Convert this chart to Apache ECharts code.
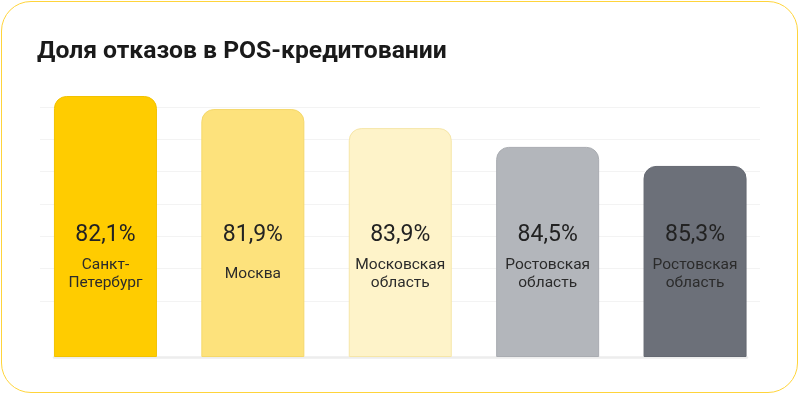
<!DOCTYPE html>
<html>
<head>
<meta charset="utf-8">
<script src="https://cdn.jsdelivr.net/npm/echarts@6/dist/echarts.min.js"></script>
<style>
  html, body { margin: 0; padding: 0; background: #ffffff; }
  #wrap { position: relative; width: 800px; height: 395px; overflow: hidden; }
  #chart { position: absolute; left: 0; top: 0; width: 800px; height: 395px; }
  #frame { position: absolute; left: 1px; top: 1px; width: 797px; height: 392px;
           box-sizing: border-box; border: 1.5px solid #FFD43B; border-radius: 30px;
           pointer-events: none; }
</style>
</head>
<body>
<div id="wrap">
  <div id="chart"></div>
  <div id="frame"></div>
</div>
<script>
// ---- data ----
const titleText = 'Доля отказов в POS-кредитовании';
const categories = ['Санкт-\nПетербург', 'Москва', 'Московская\nобласть', 'Ростовская\nобласть', 'Ростовская\nобласть'];
const shareValues = [82.1, 81.9, 83.9, 84.5, 85.3];          // % shown on bars
const barLevels = [100, 95.0, 87.7, 80.5, 73.2];              // relative bar heights as drawn
const barColors = ['#FFCC00', '#FDE27C', '#FEF3C9', '#B3B6BB', '#6C7079'];
const barBorders = ['#F2C200', '#F5D86A', '#F6E6A8', '#A9ACB1', '#656972'];

const fmt = v => v.toFixed(1).replace('.', ',') + '%';

const chart = echarts.init(document.getElementById('chart'), null, { renderer: 'canvas' });

chart.setOption({
  animation: false,
  backgroundColor: '#ffffff',
  title: {
    text: titleText,
    left: 37, top: 39, padding: 0,
    textStyle: { fontFamily: 'Roboto', fontWeight: 'bold', fontSize: 24.7, color: '#1a1a1a' }
  },
  grid: [
    // bars
    { left: 31.75, right: 31.25, top: 96, bottom: 38 },
    // background grid lines
    { left: 40, right: 40, top: 107, bottom: 94 },
    // baseline
    { left: 54, right: 53, top: 96, bottom: 38 }
  ],
  xAxis: [
    { type: 'category', gridIndex: 0, data: categories,
      axisLine: { show: false }, axisTick: { show: false }, axisLabel: { show: false } },
    { type: 'value', gridIndex: 1, min: 0, max: 1, show: false },
    { type: 'value', gridIndex: 2, min: 0, max: 1,
      axisLine: { show: true, onZero: false, lineStyle: { color: '#EDEDED', width: 2.5 } },
      axisTick: { show: false }, axisLabel: { show: false }, splitLine: { show: false } }
  ],
  yAxis: [
    { type: 'value', gridIndex: 0, min: 0, max: 100, show: false },
    { type: 'value', gridIndex: 1, min: 0, max: 6, interval: 1,
      axisLine: { show: false }, axisTick: { show: false }, axisLabel: { show: false },
      splitLine: { show: true, lineStyle: { color: '#F3F3F3', width: 1 } } },
    { type: 'value', gridIndex: 2, min: 0, max: 1, show: false }
  ],
  series: [
    {
      type: 'bar', xAxisIndex: 0, yAxisIndex: 0, z: 3,
      barWidth: 103,
      data: barLevels.map((v, i) => ({
        value: v,
        itemStyle: { color: barColors[i], borderColor: barBorders[i], borderWidth: 1, borderRadius: [12, 12, 0, 0] }
      })),
      label: {
        show: true, position: 'insideBottom', distance: 122, verticalAlign: 'middle',
        formatter: p => fmt(shareValues[p.dataIndex]),
        fontFamily: 'Roboto', fontSize: 23, color: '#222222'
      }
    },
    {
      type: 'bar', xAxisIndex: 0, yAxisIndex: 0, z: 4, barGap: '-100%',
      barWidth: 103, silent: true,
      data: barLevels,
      itemStyle: { color: 'rgba(0,0,0,0)' },
      label: {
        show: true, position: 'insideBottom', distance: 83, verticalAlign: 'middle',
        formatter: p => categories[p.dataIndex],
        fontFamily: 'Roboto', fontSize: 15.5, lineHeight: 18, color: '#2b2b2b', align: 'center'
      }
    }
  ]
});
</script>
</body>
</html>
